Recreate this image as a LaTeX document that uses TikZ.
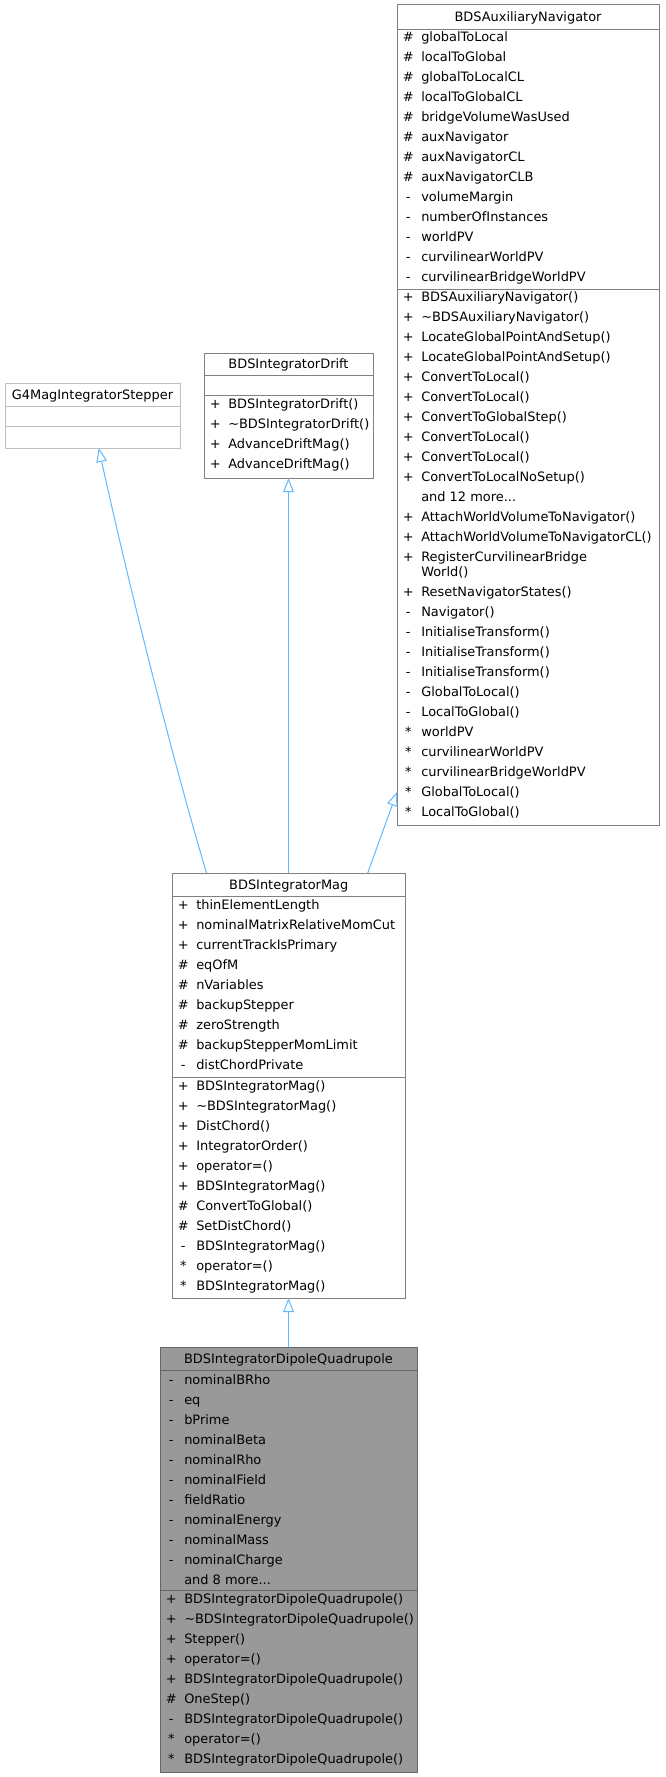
\documentclass[tikz,border=0pt]{standalone}
\usepackage{fontspec}
\setmainfont{DejaVu Sans}
\usetikzlibrary{arrows.meta}
\definecolor{edgeblue}{HTML}{63B8FF}
\definecolor{boxgray}{HTML}{808080}
\definecolor{ghostgray}{HTML}{BFBFBF}
\definecolor{curfill}{HTML}{999999}
\definecolor{curline}{HTML}{666666}
\newcommand\memfont{\fontsize{9.7pt}{12pt}\selectfont}
\newcommand\vis[1]{\makebox[16.5pt][c]{#1}\hspace{1.5pt}}
\newcommand\andmore[1]{and #1 more...}
\begin{document}
\begin{tikzpicture}[x=0.75pt,y=-0.75pt,
  cls/.style={draw=boxgray, line width=0.7pt, fill=white, anchor=north west, inner sep=0pt, outer sep=0pt},
  ghost/.style={cls, draw=ghostgray},
  cur/.style={cls, draw=curline, fill=curfill},
  sepline/.style={draw=boxgray, line width=0.7pt},
  ghostsep/.style={draw=ghostgray, line width=0.7pt},
  cursep/.style={draw=curline, line width=0.7pt},
  mem/.style={anchor=base west, inner sep=0pt, font=\memfont, text=black},
  ttl/.style={anchor=base, inner sep=0pt, font=\memfont, text=black},
  inh/.style={draw=edgeblue, line width=0.75pt, -{Triangle[open, length=10.5pt, width=8pt]}}
]
\useasboundingbox (0,0) rectangle (665,1777);

% ---------- BDSAuxiliaryNavigator ----------
\node[cls, minimum width=196.5pt, minimum height=615.375pt] (aux) at (397,4.5) {};
\draw[sepline] (397,29.5) -- (659,29.5);
\draw[sepline] (397,289) -- (659,289);
\node[ttl] (aux-t) at (528,21.5) {BDSAuxiliaryNavigator};
\foreach \s/\t [count=\i] in {\#/globalToLocal, \#/localToGlobal, \#/globalToLocalCL, \#/localToGlobalCL, \#/bridgeVolumeWasUsed, \#/auxNavigator, \#/auxNavigatorCL, \#/auxNavigatorCLB, -/volumeMargin, -/numberOfInstances, -/worldPV, -/curvilinearWorldPV, -/curvilinearBridgeWorldPV}
  \node[mem] (aux-a\i) at (397,{41.5+20*(\i-1)}) {\vis{\s}\t};
\foreach \s/\t [count=\i] in {+/BDSAuxiliaryNavigator(), +/\textasciitilde BDSAuxiliaryNavigator(), +/LocateGlobalPointAndSetup(), +/LocateGlobalPointAndSetup(), +/ConvertToLocal(), +/ConvertToLocal(), +/ConvertToGlobalStep(), +/ConvertToLocal(), +/ConvertToLocal(), +/ConvertToLocalNoSetup(), {}/\andmore{12}, +/AttachWorldVolumeToNavigator(), +/AttachWorldVolumeToNavigatorCL()}
  \node[mem] (aux-m\i) at (397,{301.5+20*(\i-1)}) {\vis{\s}\t};
\node[mem] (aux-reg) at (397,561.5) {\vis{+}RegisterCurvilinearBridge};
\node[mem] (aux-reg2) at (397,576.5) {\vis{}World()};
\foreach \s/\t [count=\i] in {+/ResetNavigatorStates(), -/Navigator(), -/InitialiseTransform(), -/InitialiseTransform(), -/InitialiseTransform(), -/GlobalToLocal(), -/LocalToGlobal(), */worldPV, */curvilinearWorldPV, */curvilinearBridgeWorldPV, */GlobalToLocal(), */LocalToGlobal()}
  \node[mem] (aux-n\i) at (397,{596.5+20*(\i-1)}) {\vis{\s}\t};

% ---------- G4MagIntegratorStepper ----------
\node[ghost, minimum width=131.25pt, minimum height=48.75pt] (g4) at (5,383) {};
\draw[ghostsep] (5,406) -- (180,406);
\draw[ghostsep] (5,426) -- (180,426);
\node[ttl] (g4-t) at (92.5,399) {G4MagIntegratorStepper};

% ---------- BDSIntegratorDrift ----------
\node[cls, minimum width=126.75pt, minimum height=93.75pt] (drift) at (204,353) {};
\draw[sepline] (204,375) -- (373,375);
\draw[sepline] (204,395) -- (373,395);
\node[ttl] (drift-t) at (288.5,368.5) {BDSIntegratorDrift};
\foreach \s/\t [count=\i] in {+/BDSIntegratorDrift(), +/\textasciitilde BDSIntegratorDrift(), +/AdvanceDriftMag(), +/AdvanceDriftMag()}
  \node[mem] (drift-m\i) at (204,{408.5+20*(\i-1)}) {\vis{\s}\t};

% ---------- BDSIntegratorMag ----------
\node[cls, minimum width=174.75pt, minimum height=318.75pt] (mag) at (172,873) {};
\draw[sepline] (172,896) -- (405,896);
\draw[sepline] (172,1077) -- (405,1077);
\node[ttl] (mag-t) at (288.75,889) {BDSIntegratorMag};
\foreach \s/\t [count=\i] in {+/thinElementLength, +/nominalMatrixRelativeMomCut, +/currentTrackIsPrimary, \#/eqOfM, \#/nVariables, \#/backupStepper, \#/zeroStrength, \#/backupStepperMomLimit, -/distChordPrivate}
  \node[mem] (mag-a\i) at (172,{909.5+20*(\i-1)}) {\vis{\s}\t};
\foreach \s/\t [count=\i] in {+/BDSIntegratorMag(), +/\textasciitilde BDSIntegratorMag(), +/DistChord(), +/IntegratorOrder(), +/operator=(), +/BDSIntegratorMag(), \#/ConvertToGlobal(), \#/SetDistChord(), -/BDSIntegratorMag(), */operator=(), */BDSIntegratorMag()}
  \node[mem] (mag-m\i) at (172,{1090.5+20*(\i-1)}) {\vis{\s}\t};

% ---------- BDSIntegratorDipoleQuadrupole ----------
\node[cur, minimum width=192.75pt, minimum height=318.75pt] (dip) at (160,1347) {};
\draw[cursep] (160,1370) -- (417,1370);
\draw[cursep] (160,1590) -- (417,1590);
\node[ttl] (dip-t) at (288.5,1363) {BDSIntegratorDipoleQuadrupole};
\foreach \s/\t [count=\i] in {-/nominalBRho, -/eq, -/bPrime, -/nominalBeta, -/nominalRho, -/nominalField, -/fieldRatio, -/nominalEnergy, -/nominalMass, -/nominalCharge, {}/\andmore{8}}
  \node[mem] (dip-a\i) at (160,{1384.5+20*(\i-1)}) {\vis{\s}\t};
\foreach \s/\t [count=\i] in {+/BDSIntegratorDipoleQuadrupole(), +/\textasciitilde BDSIntegratorDipoleQuadrupole(), +/Stepper(), +/operator=(), +/BDSIntegratorDipoleQuadrupole(), \#/OneStep(), -/BDSIntegratorDipoleQuadrupole(), */operator=(), */BDSIntegratorDipoleQuadrupole()}
  \node[mem] (dip-m\i) at (160,{1603.5+20*(\i-1)}) {\vis{\s}\t};

% ---------- inheritance connectors ----------
\draw[inh] ([xshift=-61.5pt]mag.north) .. controls (170,750) and (127,577) .. ([xshift=4.65pt]g4.south);
\draw[inh] (mag.north) -- (mag.north |- drift.south);
\draw[inh] ([xshift=59.4pt]mag.north) -- ([yshift=24.75pt]aux.south west);
\draw[inh] (dip.north) -- (mag.south);
\end{tikzpicture}
\end{document}
